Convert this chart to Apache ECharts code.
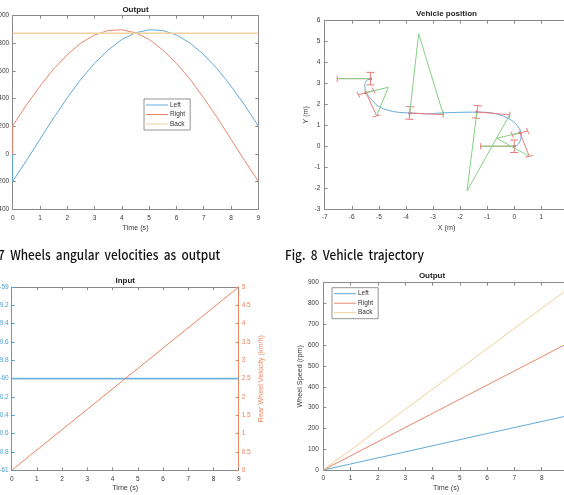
<!DOCTYPE html>
<html>
<head>
<meta charset="utf-8">
<script src="https://cdn.jsdelivr.net/npm/echarts@6/dist/echarts.min.js"></script>
<style>
html, body { margin: 0; padding: 0; width: 564px; height: 495px; overflow: hidden; background: #fff; }
.panel { position: absolute; }
#p1 { left: 0; top: 0; width: 282px; height: 240px; }
#p2 { left: 282px; top: 0; width: 300px; height: 240px; }
#p3 { left: 0; top: 240px; width: 282px; height: 255px; }
#p4 { left: 282px; top: 240px; width: 300px; height: 255px; }
.caption { position: absolute; font-family: 'Noto Sans CJK KR', sans-serif; font-size: 13.5px; font-weight: 500; color: #111; white-space: nowrap; word-spacing: 3px; line-height: 18px; }
#cap7 { right: 344px; top: 245px; transform: scaleX(0.875); transform-origin: right center; }
#cap8 { left: 285px; top: 245px; transform: scaleX(0.875); transform-origin: left center; }
</style>
</head>
<body>
<div id="p1" class="panel"></div>
<div id="p2" class="panel"></div>
<div id="p3" class="panel"></div>
<div id="p4" class="panel"></div>
<div id="cap7" class="caption">Fig. 7 Wheels angular velocities as output</div>
<div id="cap8" class="caption">Fig. 8 Vehicle trajectory</div>
<script>
// ---- data ----

// Output (angular velocities), t in s
const outTime = [0, 0, 0.5, 1, 1.5, 2, 2.5, 3, 3.5, 4, 4.5, 5, 5.5, 6, 6.5, 7, 7.5, 8, 8.5, 9]
const outLeft = [0, -200, -50, 105, 260, 405, 540, 655, 752, 828, 876, 898, 893, 860, 802, 718, 614, 490, 352, 203]
const outRight = [0, 203, 352, 490, 614, 718, 802, 860, 893, 898, 876, 828, 752, 655, 540, 405, 260, 105, -50, -200]
const backTime = [0, 9]
const outBack = [872, 872]

// Vehicle position: trajectory
const trajX = [-5.31, -5.44, -5.52, -5.51, -5.475, -5.25, -5.01, -4.64, -4.27, -3.86, -3.28, -2.67, -2.05, -1.38, -0.82, -0.39, -0.02, 0.19, 0.26, 0.2, 0.1, 0]
const trajY = [3.23, 3.15, 2.96, 2.75, 2.56, 2.19, 1.9, 1.71, 1.62, 1.59, 1.55, 1.59, 1.62, 1.63, 1.59, 1.43, 1.16, 0.84, 0.52, 0.2, 0.04, 0]
// vehicle poses: front point, rear point, extra vertex of green triangle
const frontX = [-5.31, -5.475, -3.86, -1.38, 0.21, 0]
const frontY = [3.23, 2.56, 1.59, 1.64, 0.64, 0]
const rearX = [-6.54, -5.08, -2.62, -0.17, 0.555, -1.24]
const rearY = [3.23, 1.45, 1.51, 1.5, -0.48, 0]
const apexX = [null, -4.65, -3.53, -1.745, -0.65, null]
const apexY = [null, 2.82, 5.38, -2.14, 0.38, null]

// Input
const inTime = [0, 4.5, 9]
const steerAngle = [-60, -60, -60]
const rearVel = [0, 2.5, 5]

// Output (wheel speed, rpm)
const spTime = [0, 3, 6, 9]
const spLeft = [0, 87, 175, 262]
const spRight = [0, 204, 408, 612]
const spBack = [0, 291, 583, 874]

// ---- style ----
const FONT = '"Liberation Sans", Arial, sans-serif'
const GRAY = '#8a8a8a'
const TXT = '#3a3a3a'
const C_LEFT = '#62aad8'
const C_RIGHT = '#e8866c'
const C_BACK = '#f4d2a2'
const C_GREEN = '#86cf86'
const C_RED = '#ee7a7a'

const zip = (a, b) => a.map((v, i) => [v, b[i]])
const plain = v => String(v)

const tick = { show: true, inside: true, length: 3, lineStyle: { color: GRAY } }

function xAxes(min, max, interval, name, nameGap, margin) {
  return [
    {
      type: 'value', min, max, interval, position: 'bottom',
      name, nameLocation: 'middle', nameGap, nameMoveOverlap: false,
      nameTextStyle: { fontFamily: FONT, fontSize: 7.2, color: TXT },
      axisLine: { onZero: false, lineStyle: { color: GRAY } },
      axisTick: tick,
      axisLabel: { fontFamily: FONT, fontSize: 6.5, color: TXT, margin, formatter: plain },
      splitLine: { show: false }
    },
    {
      type: 'value', min, max, interval, position: 'top',
      axisLine: { onZero: false, lineStyle: { color: GRAY } },
      axisTick: tick, axisLabel: { show: false }, splitLine: { show: false }
    }
  ]
}

function yAxes(min, max, interval, name, nameGap, margin) {
  return [
    {
      type: 'value', min, max, interval, position: 'left',
      name, nameLocation: 'middle', nameGap, nameMoveOverlap: false,
      nameTextStyle: { fontFamily: FONT, fontSize: 7.2, color: TXT },
      axisLine: { onZero: false, lineStyle: { color: GRAY } },
      axisTick: tick,
      axisLabel: { fontFamily: FONT, fontSize: 6.5, color: TXT, margin, formatter: plain },
      splitLine: { show: false }
    },
    {
      type: 'value', min, max, interval, position: 'right',
      axisLine: { onZero: false, lineStyle: { color: GRAY } },
      axisTick: tick, axisLabel: { show: false }, splitLine: { show: false }
    }
  ]
}

function title(text, x, top) {
  return {
    text, left: x, top, textAlign: 'center', padding: 0,
    textStyle: { fontFamily: FONT, fontSize: 8, fontWeight: 'bold', color: '#222' }
  }
}

function legend(left, top) {
  return {
    orient: 'vertical', left, top, padding: [2, 5, 2, 2],
    icon: 'rect', itemWidth: 22, itemHeight: 1, itemGap: 1.5,
    backgroundColor: '#fff', borderColor: '#7a7a7a', borderWidth: 0.8,
    textStyle: { fontFamily: FONT, fontSize: 6.5, color: '#333', padding: [0, 0, 0, -3], lineHeight: 8 },
    data: ['Left', 'Right', 'Back']
  }
}

function grid(left, right, top, bottom) {
  return { left, right, top, bottom, outerBoundsMode: 'none', containLabel: false }
}

function line(name, data, color, width) {
  return {
    name, type: 'line', data, symbol: 'none', silent: true,
    lineStyle: { color, width: width || 1 }, itemStyle: { color }
  }
}

// ---- panel 1: Output (angular velocity) ----
const c1 = echarts.init(document.getElementById('p1'))
c1.setOption({
  animation: false,
  title: title('Output', 135.5, 6),
  legend: legend(144, 99),
  grid: grid(12.7, 23.7, 15.7, 31),
  xAxis: xAxes(0, 9, 1, 'Time (s)', 16, 5.5),
  yAxis: yAxes(-400, 1000, 200, '', 0, 3.5),
  series: [
    line('Left', zip(outTime, outLeft), C_LEFT),
    line('Right', zip(outTime, outRight), C_RIGHT),
    line('Back', zip(backTime, outBack), C_BACK, 1.5)
  ]
})

// ---- panel 2: Vehicle position ----
const redSegs = []
const greenSegs = []
const CAP = 0.15
const BAR = 0.3
frontX.forEach((fx, i) => {
  const fy = frontY[i], rx = rearX[i], ry = rearY[i]
  const len = Math.hypot(rx - fx, ry - fy)
  const ux = (rx - fx) / len, uy = (ry - fy) / len
  const px = -uy, py = ux
  // body line front -> rear
  redSegs.push([[fx, fy], [rx, ry]])
  // front axle with caps
  const a = [fx - px * BAR, fy - py * BAR]
  const b = [fx + px * BAR, fy + py * BAR]
  redSegs.push([a, b])
  redSegs.push([[a[0] - ux * CAP, a[1] - uy * CAP], [a[0] + ux * CAP, a[1] + uy * CAP]])
  redSegs.push([[b[0] - ux * CAP, b[1] - uy * CAP], [b[0] + ux * CAP, b[1] + uy * CAP]])
  // rear cap
  redSegs.push([[rx - px * CAP, ry - py * CAP], [rx + px * CAP, ry + py * CAP]])
  // green frame
  if (apexX[i] === null) {
    greenSegs.push([[fx, fy], [rx, ry]])
  } else {
    greenSegs.push([[fx, fy], [apexX[i], apexY[i]], [rx, ry]])
  }
})

const c2 = echarts.init(document.getElementById('p2'))
c2.setOption({
  animation: false,
  title: title('Vehicle position', 446.5 - 282, 10),
  grid: grid(42.7, 13.6, 20.7, 31),
  xAxis: xAxes(-7, 2, 1, 'X (m)', 15.4, 4.5),
  yAxis: yAxes(-3, 6, 1, 'Y (m)', 15, 4.4),
  series: [
    { ...line('traj', zip(trajX, trajY), C_LEFT), smooth: 0.3 },
    ...redSegs.map(s => line('red', s, C_RED)),
    ...greenSegs.map(s => line('green', s, C_GREEN)),
    {
      type: 'scatter', data: zip(frontX, frontY), symbolSize: 3, silent: true,
      itemStyle: { color: '#b22222' }
    }
  ]
})

// ---- panel 3: Input ----
const C_IN_L = '#4d9fd8'
const C_IN_R = '#ea845f'
const c3 = echarts.init(document.getElementById('p3'))
c3.setOption({
  animation: false,
  title: title('Input', 125.2, 36.7),
  grid: grid(11.7, 43.3, 47, 24.7),
  xAxis: xAxes(0, 9, 1, 'Time (s)', 14.4, 5),
  yAxis: [
    {
      type: 'value', min: -61, max: -59, interval: 0.2, position: 'left',
      axisLine: { onZero: false, lineStyle: { color: C_IN_L } },
      axisTick: { show: true, inside: true, length: 3, lineStyle: { color: C_IN_L } },
      axisLabel: { fontFamily: FONT, fontSize: 6.5, color: C_IN_L, margin: 3 },
      splitLine: { show: false }
    },
    {
      type: 'value', min: 0, max: 5, interval: 0.5, position: 'right',
      name: 'Rear Wheel Velocity (km/h)', nameLocation: 'middle', nameGap: 18.7, nameMoveOverlap: false,
      nameTextStyle: { fontFamily: FONT, fontSize: 7.2, color: C_IN_R },
      axisLine: { onZero: false, lineStyle: { color: C_IN_R } },
      axisTick: { show: true, inside: true, length: 3, lineStyle: { color: C_IN_R } },
      axisLabel: { fontFamily: FONT, fontSize: 6.5, color: C_IN_R, margin: 3 },
      splitLine: { show: false }
    }
  ],
  series: [
    line('steer', zip(inTime, steerAngle), '#6fb3de', 1.8),
    { ...line('vel', zip(inTime, rearVel), C_IN_R), yAxisIndex: 1 }
  ]
})

// ---- panel 4: Output (wheel speed) ----
const c4 = echarts.init(document.getElementById('p4'))
c4.setOption({
  animation: false,
  title: title('Output', 432 - 282, 32),
  legend: legend(50, 47.7),
  grid: grid(41.3, 13, 42.7, 25),
  xAxis: xAxes(0, 9, 1, 'Time (s)', 14.7, 5),
  yAxis: yAxes(0, 900, 100, 'Wheel Speed (rpm)', 19.7, 4.5),
  series: [
    line('Left', zip(spTime, spLeft), C_LEFT),
    line('Right', zip(spTime, spRight), C_RIGHT),
    line('Back', zip(spTime, spBack), '#f2cf96')
  ]
})
</script>
</body>
</html>
